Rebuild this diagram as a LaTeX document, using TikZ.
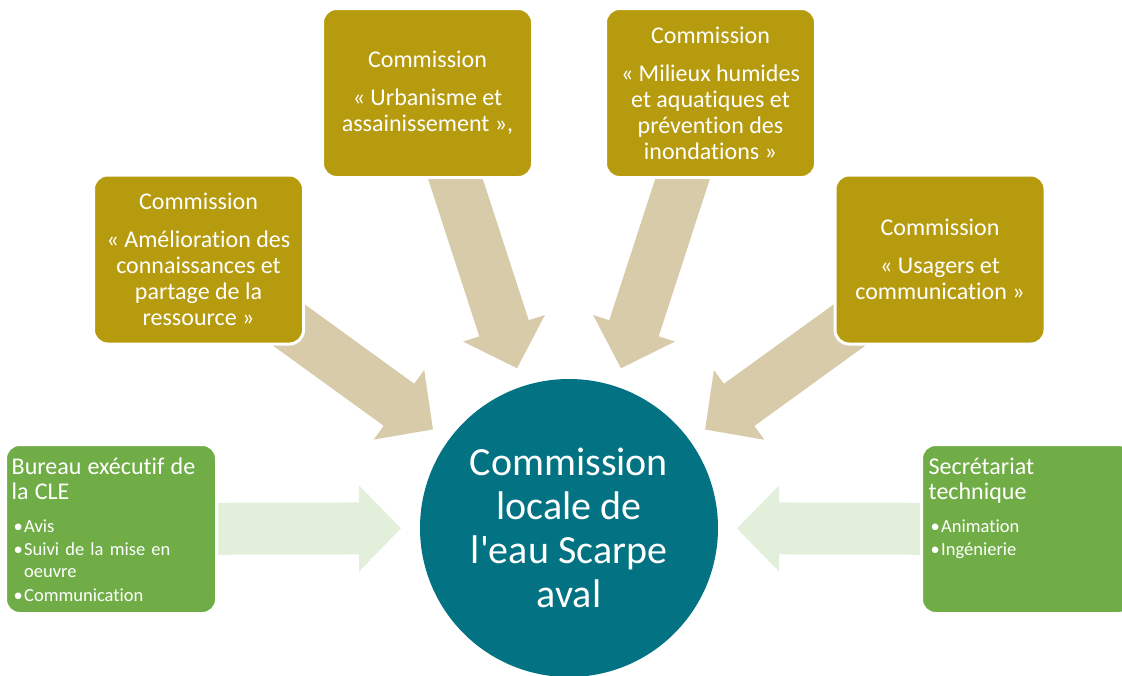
\documentclass[tikz,border=0pt]{standalone}
\usepackage{fontspec}
\setmainfont{Carlito}[Ligatures={TeXOff,NoCommon},Contextuals=NoAlternate]
\usetikzlibrary{calc}
\definecolor{cgold}{RGB}{183,155,14}
\definecolor{cgreen}{RGB}{112,173,71}
\definecolor{clgreen}{RGB}{226,239,218}
\definecolor{cbeige}{RGB}{216,203,170}
\definecolor{cteal}{RGB}{3,114,130}
\pgfdeclarelayer{bg}
\pgfsetlayers{bg,main}
\newcommand\bul{\makebox[12.5pt][l]{\hspace{2pt}•}}
% block arrow from the centre of node #2 towards the hub node #3
\newcommand\blockarrow[3]{%
  \coordinate (#2-tip) at ($(#3.center)!168pt!(#2.center)$);
  \coordinate (#2-neck) at ($(#2-tip)!42pt!(#2.center)$);
  \fill[#1] ($(#2.center)!26pt!90:(#2-tip)$) -- ($(#2-neck)!26pt!90:(#2-tip)$)
    -- ($(#2-neck)!43pt!90:(#2-tip)$) -- (#2-tip)
    -- ($(#2-neck)!43pt!-90:(#2-tip)$) -- ($(#2-neck)!26pt!-90:(#2-tip)$)
    -- ($(#2.center)!26pt!-90:(#2-tip)$) -- cycle;
}
\tikzset{
  goldbox/.style={rectangle, rounded corners=14pt, fill=cgold, draw=white,
    line width=3pt, minimum width=210pt, minimum height=169pt, text=white,
    align=center, inner sep=0pt, font=\fontsize{24}{26}\selectfont},
  greenbox/.style={rectangle, rounded corners=14pt, fill=cgreen, draw=white,
    line width=3pt, minimum width=211pt, minimum height=169pt},
  greentext/.style={anchor=north west, text=white, inner sep=0pt,
    text width=200pt, align=left, font=\fontsize{18.5}{22}\selectfont},
  hub/.style={circle, fill=cteal, minimum size=298pt, inner sep=0pt,
    text=white, align=center, font=\fontsize{40}{44}\selectfont},
  bigarrow/.style={fill=cbeige},
  sidearrow/.style={fill=clgreen},
}
\begin{document}
\begin{tikzpicture}[x=1pt,y=-1pt]
\useasboundingbox (0,0) rectangle (1122,675);
% hub
\node[hub] (cle) at (569,528) {Commission\\locale de\\l'eau Scarpe\\aval};
% commission boxes
\node[goldbox] (cA) at (198.5,259.5) {Commission\\[12pt]« Amélioration des\\connaissances et\\partage de la\\ressource »};
\node[goldbox] (cB) at (427.5,93) {Commission\\[12pt]« Urbanisme et\\assainissement »,};
\node[goldbox] (cC) at (710.5,93) {Commission\\[12pt]« Milieux humides\\et aquatiques et\\prévention des\\inondations »};
\node[goldbox] (cD) at (940,259.5) {Commission\\[12pt]« Usagers et\\communication »};
% green boxes
\node[greenbox] (gL) at (111,529) {};
\node[greenbox] (gR) at (1027,529) {};
\node[greentext] (gLt) at ($(gL.north west)+(7.5,14.5)$) {\setlength{\parskip}{1.5pt}%
  {\fontsize{24}{25}\selectfont Bureau exécutif de\\la CLE\par}\vspace{9.5pt}
  \bul Avis\par
  \bul Suivi de la mise en\\\hspace*{12.5pt}oeuvre\par
  \bul Communication};
\node[greentext] (gRt) at ($(gR.north west)+(8.5,14.5)$) {\setlength{\parskip}{1.5pt}%
  {\fontsize{24}{25}\selectfont Secrétariat\\technique\par}\vspace{9.5pt}
  \bul Animation\par
  \bul Ingénierie};
% arrows
\begin{pgfonlayer}{bg}
\blockarrow{bigarrow}{cA}{cle}
\blockarrow{bigarrow}{cB}{cle}
\blockarrow{bigarrow}{cC}{cle}
\blockarrow{bigarrow}{cD}{cle}
\blockarrow{sidearrow}{gL}{cle}
\blockarrow{sidearrow}{gR}{cle}
\end{pgfonlayer}
\end{tikzpicture}
\end{document}
